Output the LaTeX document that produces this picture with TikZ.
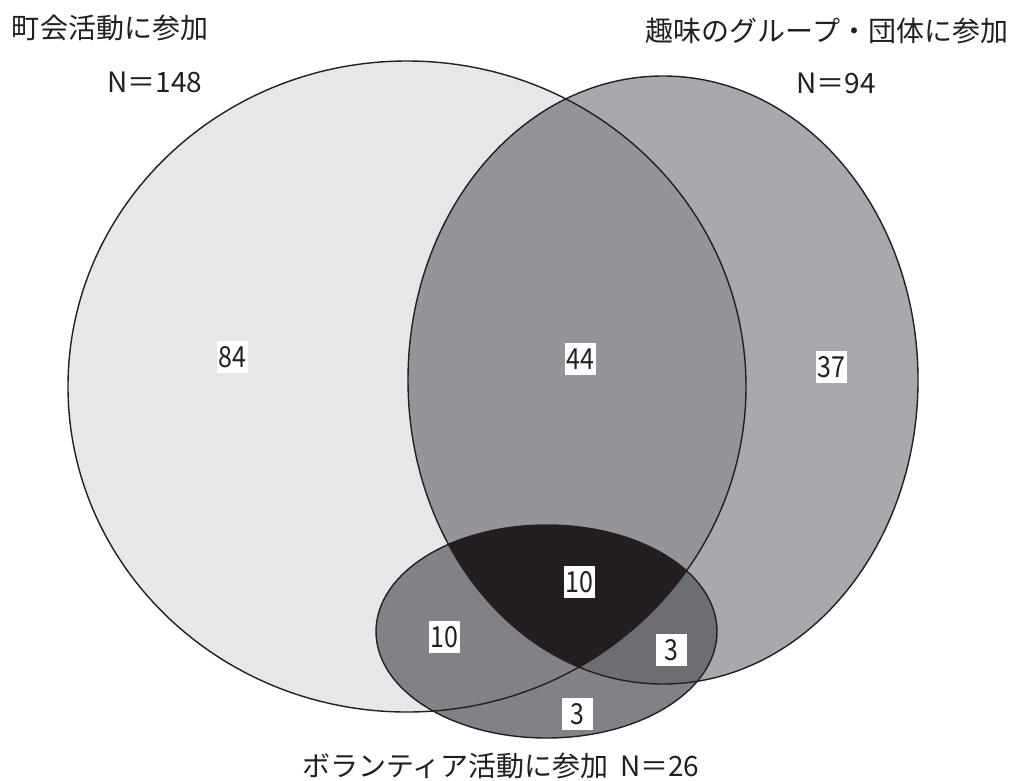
\documentclass[tikz,border=0pt]{standalone}
\usepackage{fontspec}
\setmainfont{Noto Sans CJK JP}
\usetikzlibrary{calc}
\definecolor{cbig}{HTML}{E6E7E8}
\definecolor{cmed}{HTML}{A7A9AC}
\definecolor{cbm}{HTML}{939598}
\definecolor{csmall}{HTML}{808285}
\definecolor{csm}{HTML}{6D6E71}
\definecolor{ctri}{HTML}{231F20}
\newcommand{\narrownum}[1]{\scalebox{0.86}[1]{#1}}
\tikzset{
  title/.style={inner sep=0pt, font=\fontsize{28}{34}\selectfont, text=ctri},
  numbox/.style={fill=white, inner sep=0pt, minimum width=31pt, minimum height=32pt, font=\fontsize{29}{30}\selectfont\addfontfeatures{Weight=Light}, text=ctri},
  outline/.style={draw=ctri, line width=1.4pt}
}
\begin{document}
\begin{tikzpicture}[x=1pt,y=-1pt]
\useasboundingbox (0,0) rectangle (1016,780);
\fill[white] (0,0) rectangle (1016,780);
\def\bigE{(407,386.5) ellipse [x radius=339, y radius=325.5]}
\def\medE{(663,380) ellipse [x radius=255, y radius=304]}
\def\smallE{(546.5,631.5) ellipse [x radius=170.5, y radius=106.5]}
% fills
\fill[cbig] \bigE;
\fill[cmed] \medE;
\begin{scope}
  \clip \bigE;
  \fill[cbm] \medE;
\end{scope}
\fill[csmall] \smallE;
\begin{scope}
  \clip \smallE;
  \fill[csm] \medE;
\end{scope}
\begin{scope}
  \clip \smallE;
  \clip \bigE;
  \fill[ctri] \medE;
\end{scope}
% outlines
\draw[outline] \bigE;
\draw[outline] \medE;
\draw[outline] \smallE;
% titles
\node[title] (t1) at (110,28) {町会活動に参加};
\node[title] (n1) at (155,82) {N＝148};
\node[title] (t2) at (827,31) {趣味のグループ・団体に参加};
\node[title] (n2) at (836,83) {N＝94};
\node[title] (t3) at (501,766) {ボランティア活動に参加\hspace{0.4em}N＝26};
% numbers
\node[numbox] (a) at (232,357) {\narrownum{84}};
\node[numbox] (b) at (580,359) {\narrownum{44}};
\node[numbox] (c) at (831,367) {\narrownum{37}};
\node[numbox] (d) at (579,582) {\narrownum{10}};
\node[numbox] (e) at (444,637) {\narrownum{10}};
\node[numbox] (f) at (671,650) {\narrownum{3}};
\node[numbox] (g) at (577,714) {\narrownum{3}};
\end{tikzpicture}
\end{document}
